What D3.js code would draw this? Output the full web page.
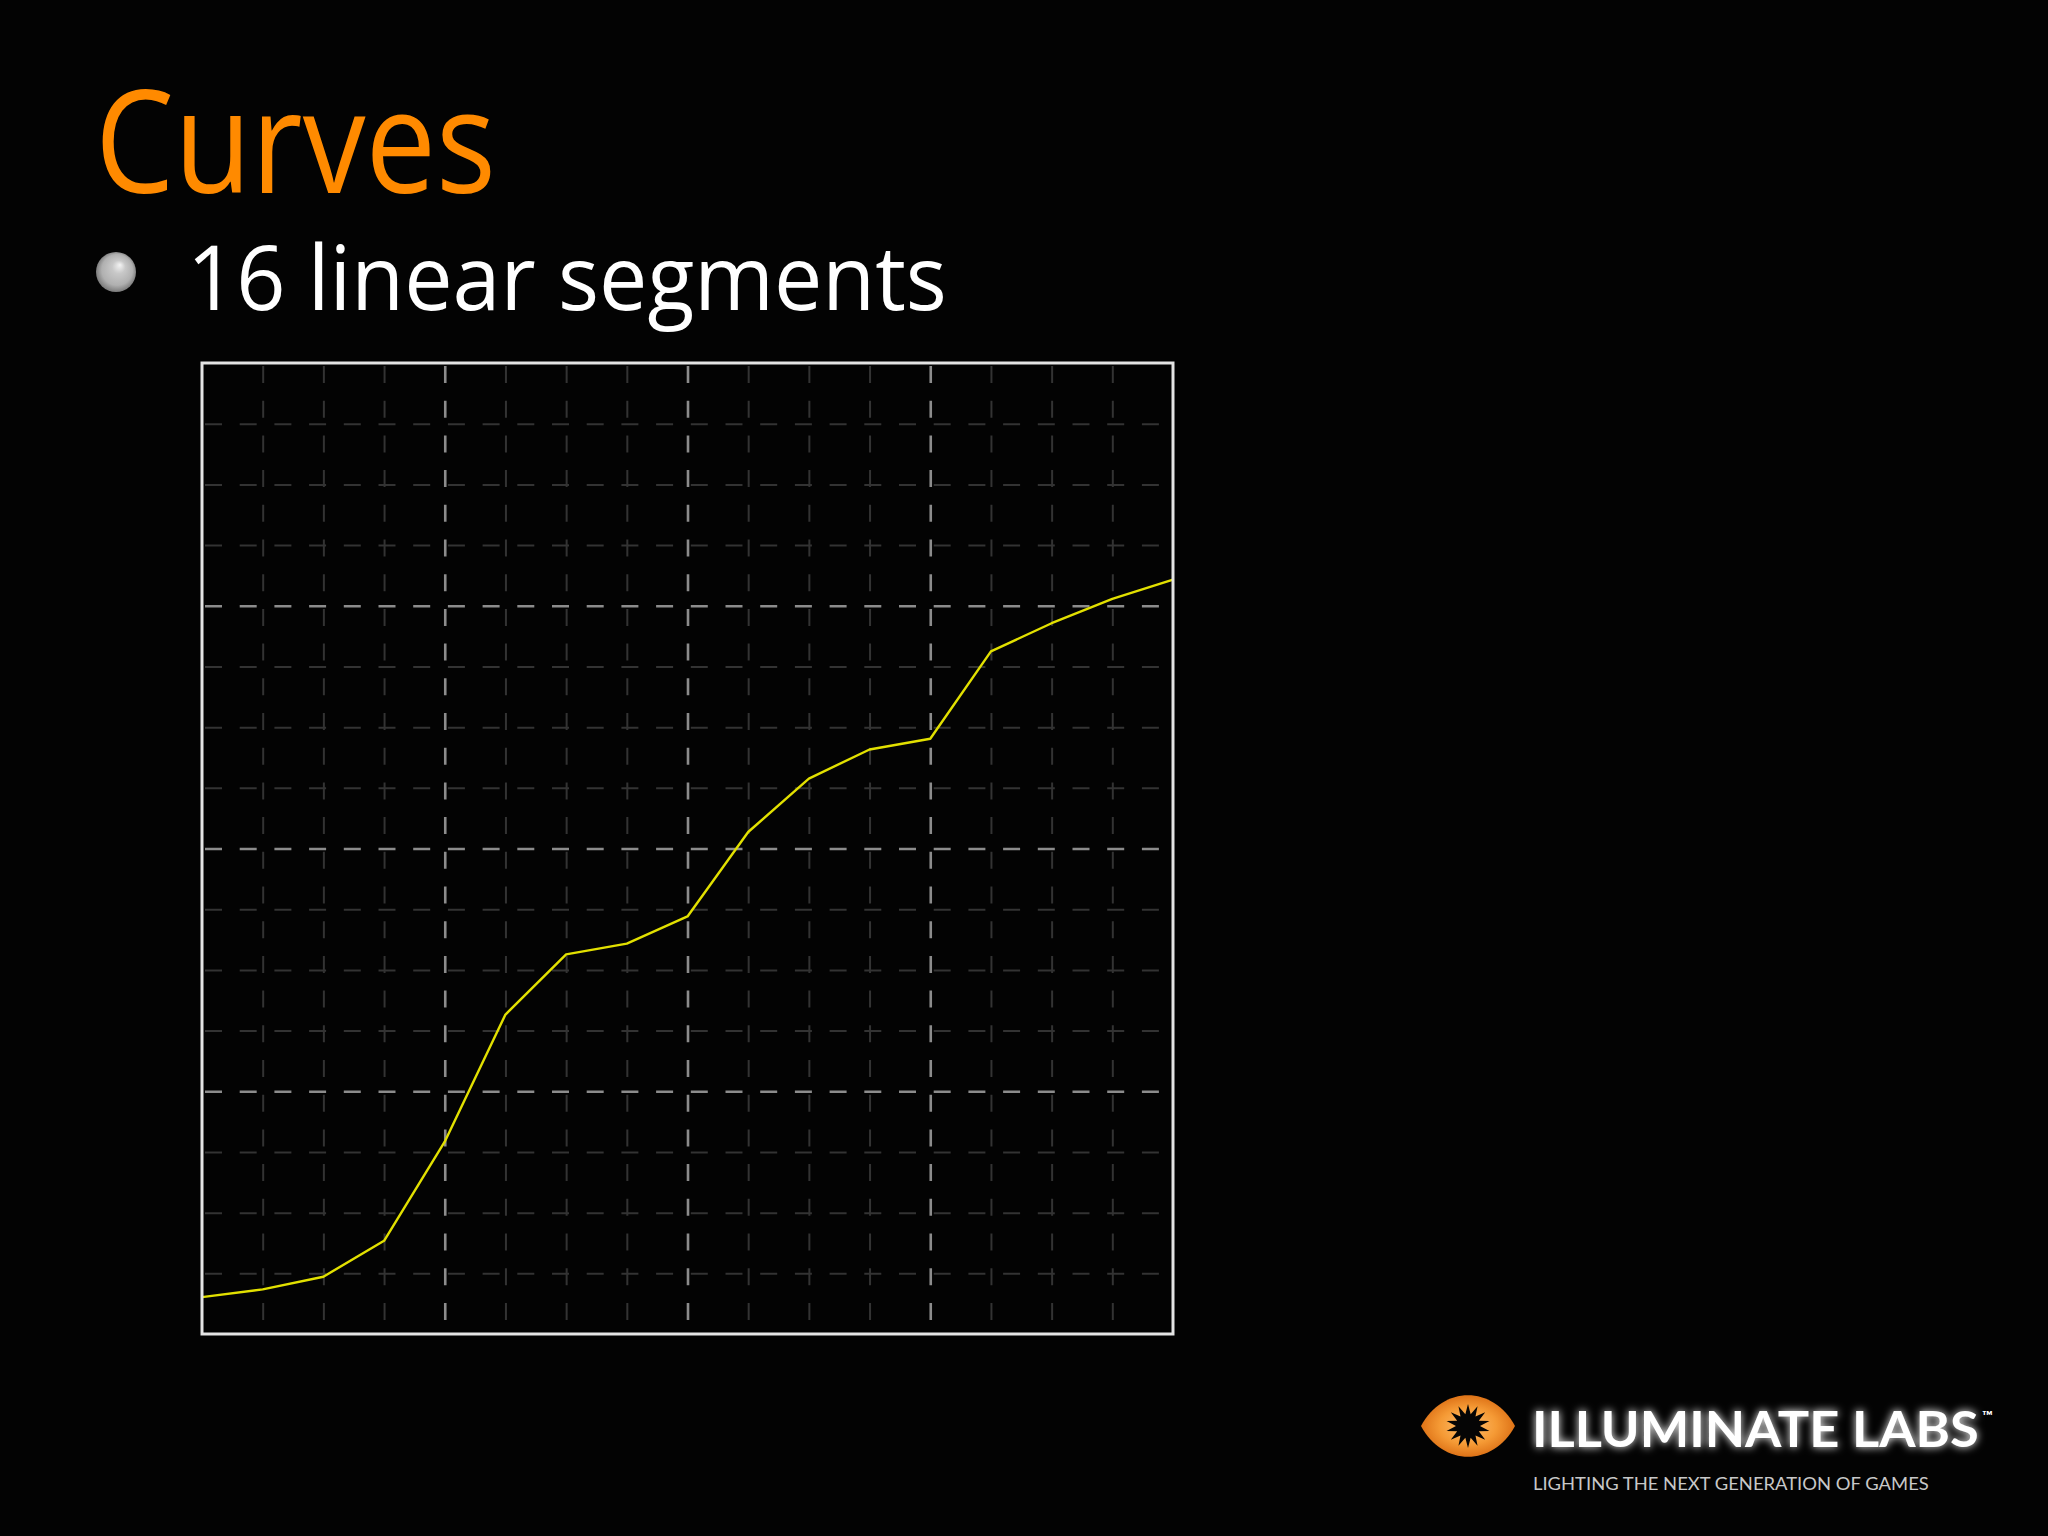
<!DOCTYPE html>
<html><head><meta charset="utf-8">
<script src="https://cdn.jsdelivr.net/npm/d3@7"></script>
<style>html,body{margin:0;background:#030303;} svg{display:block}</style>
</head><body>
<svg id="c" width="2048" height="1536"></svg>
<script>
// ---- data ----
const knots = [0,1,2,3,4,5,6,7,8,9,10,11,12,13,14,15,16];
const curveValues = [0.038,0.046,0.059,0.096,0.198,0.329,0.391,0.402,0.430,0.517,0.572,0.602,0.613,0.703,0.732,0.757,0.777];
const gridTicks = [1,2,3,4,5,6,7,8,9,10,11,12,13,14,15];
const majorTicks = [4,8,12];
const titleText = "Curves";
const bulletText = "16 linear segments";
const logoText = "ILLUMINATE LABS";
const tagText = "LIGHTING THE NEXT GENERATION OF GAMES";

// ---- layout ----
const L = 202, R = 1173, T = 363, B = 1334;
const svg = d3.select("#c");
svg.append("rect").attr("width",2048).attr("height",1536).attr("fill","#030303");
const defs = svg.append("defs");

const x = d3.scaleLinear().domain([0,16]).range([L,R]);
const yv = d3.scaleLinear().domain([0,16]).range([T,B]);
const y = d3.scaleLinear().domain([0,1]).range([B,T]);

function fitText(sel, w){
  const n = sel.node(); const len = n.getComputedTextLength();
  const x0 = +sel.attr("x");
  sel.attr("transform", `translate(${x0},0) scale(${w/len},1) translate(${-x0},0)`);
}
const title = svg.append("text").attr("x",95).attr("y",193)
  .attr("font-family","Open Sans, sans-serif").attr("font-size",143)
  .attr("fill","#ff8a00").text(titleText);
fitText(title, 401);

// bullet
const bg = defs.append("radialGradient").attr("id","ball").attr("cx","50%").attr("cy","50%").attr("r","55%").attr("fx","60%").attr("fy","32%");
bg.append("stop").attr("offset","0%").attr("stop-color","#f4f4f4");
bg.append("stop").attr("offset","30%").attr("stop-color","#c8c8c8");
bg.append("stop").attr("offset","70%").attr("stop-color","#b0b0b0");
bg.append("stop").attr("offset","100%").attr("stop-color","#6a6a6a");
svg.append("circle").attr("cx",116).attr("cy",272).attr("r",20).attr("fill","url(#ball)");

const bt = svg.append("text").attr("x",187).attr("y",310)
  .attr("font-family","Open Sans, sans-serif").attr("font-size",89)
  .attr("fill","#ffffff").text(bulletText);
fitText(bt, 760);

// grid
const plot = svg.append("g");
const gxAxis = d3.axisTop(x).tickValues(gridTicks).tickSize(-(B-T)).tickFormat("");
const gx = plot.append("g").attr("transform",`translate(0,${T})`).call(gxAxis);
const gyAxis = d3.axisLeft(yv).tickValues(gridTicks).tickSize(-(R-L)).tickFormat("");
const gy = plot.append("g").attr("transform",`translate(${L},0)`).call(gyAxis);
[gx,gy].forEach(g=>{
  g.select(".domain").remove();
  g.selectAll(".tick line")
    .attr("stroke",d=>majorTicks.includes(d)?"#8c8c8c":"#333333")
    .attr("stroke-width",d=>majorTicks.includes(d)?2.6:2)
    .attr("stroke-dasharray","17 17.7")
    .attr("stroke-dashoffset",-3);
});

// curve
const pts = knots.map((k,i)=>({k, v: curveValues[i]}));
plot.append("path").datum(pts)
  .attr("d", d3.line().x(d=>x(d.k)).y(d=>y(d.v)))
  .attr("fill","none").attr("stroke","#e2e000").attr("stroke-width",2.4)
  .attr("stroke-linejoin","round");

// border
plot.append("rect").attr("x",L).attr("y",T).attr("width",R-L).attr("height",B-T)
  .attr("fill","none").attr("stroke","#e4e4e4").attr("stroke-width",3);

// logo
const eg = defs.append("radialGradient").attr("id","eye").attr("cx","50%").attr("cy","50%").attr("r","55%");
eg.append("stop").attr("offset","0%").attr("stop-color","#ffc070");
eg.append("stop").attr("offset","55%").attr("stop-color","#f59a35");
eg.append("stop").attr("offset","100%").attr("stop-color","#d8680f");
const ex0 = 1421, ex1 = 1515, ecy = 1426;
svg.append("path")
  .attr("d",`M${ex0},${ecy} C${ex0+22},${ecy-41} ${ex1-22},${ecy-41} ${ex1},${ecy} C${ex1-22},${ecy+41} ${ex0+22},${ecy+41} ${ex0},${ecy} Z`)
  .attr("fill","url(#eye)");
const starPts = [];
const nP = 14, ro = 22, ri = 12, scx = 1468, scy = 1426;
for(let i=0;i<nP*2;i++){
  const a = Math.PI*i/nP - Math.PI/2;
  const r = i%2===0?ro:ri;
  starPts.push([scx + r*Math.cos(a), scy + r*Math.sin(a)]);
}
svg.append("path").attr("d","M"+starPts.map(p=>p.join(",")).join("L")+"Z").attr("fill","#050505");

const glow = defs.append("filter").attr("id","glow").attr("x","-10%").attr("y","-40%").attr("width","120%").attr("height","180%");
glow.append("feGaussianBlur").attr("in","SourceGraphic").attr("stdDeviation",4).attr("result","b");
const fm = glow.append("feMerge");
fm.append("feMergeNode").attr("in","b");
fm.append("feMergeNode").attr("in","SourceGraphic");

const lt = svg.append("text").attr("x",1532).attr("y",1447)
  .attr("font-family","Lato, sans-serif").attr("font-weight",700).attr("font-size",50)
  .attr("fill","#ffffff").attr("filter","url(#glow)").text(logoText);
fitText(lt, 447);
svg.append("text").attr("x",1982).attr("y",1421)
  .attr("font-family","Lato, sans-serif").attr("font-weight",700).attr("font-size",14)
  .attr("fill","#ffffff").text("™");
const tt = svg.append("text").attr("x",1533).attr("y",1490)
  .attr("font-family","Lato, sans-serif").attr("font-weight",400).attr("font-size",18)
  .attr("fill","#c8c8c8").text(tagText);
fitText(tt, 396);
</script>
</body></html>
